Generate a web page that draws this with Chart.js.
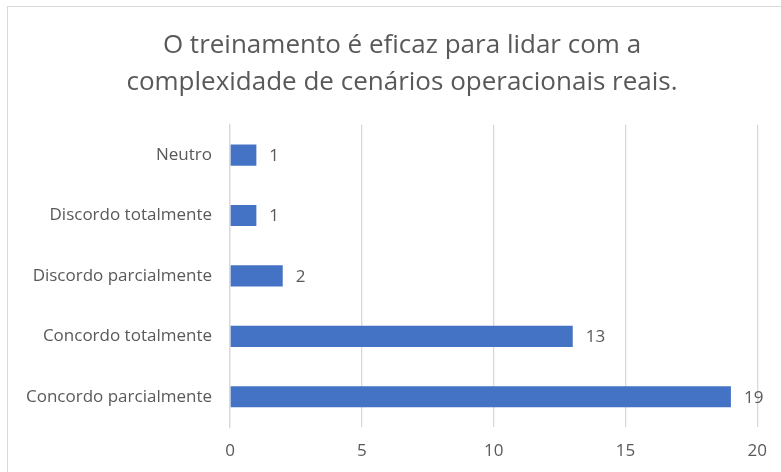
<!DOCTYPE html>
<html>
<head>
<meta charset="utf-8">
<script src="https://cdn.jsdelivr.net/npm/chart.js@4.4.1/dist/chart.umd.min.js"></script>
<style>
  body { margin: 0; background: #fff; overflow: hidden; }
  #frame { position: absolute; left: 7px; top: 6px; width: 800px; height: 490px; border: 1.5px solid #d9d9d9; }
  #c { position: absolute; left: 0; top: 0; }
</style>
</head>
<body>
<div id="frame"></div>
<canvas id="c" width="781" height="472"></canvas>
<script>
const titleLines = ["O treinamento é eficaz para lidar com a", "complexidade de cenários operacionais reais."]
const answers = ["Neutro", "Discordo totalmente", "Discordo parcialmente", "Concordo totalmente", "Concordo parcialmente"]
const counts = [1, 1, 2, 13, 19]
const xTicks = [0, 5, 10, 15, 20]

const grey = "#595959"
const fontName = "'Open Sans', sans-serif"

// write the value just past the end of each bar
const barLabels = {
    id: "barLabels",
    afterDatasetsDraw(chart) {
        const ctx = chart.ctx
        ctx.save()
        ctx.fillStyle = grey
        ctx.font = "17px " + fontName
        ctx.textAlign = "left"
        ctx.textBaseline = "middle"
        chart.getDatasetMeta(0).data.forEach((bar, i) => {
            ctx.fillText(String(counts[i]), bar.x + 13, bar.y + 1)
        })
        ctx.restore()
    }
}

const chart = new Chart(document.getElementById("c"), {
    type: "bar",
    data: {
        labels: answers,
        datasets: [{
            data: counts,
            backgroundColor: "#4472C4",
            categoryPercentage: 1,
            barPercentage: 0.35,
        }],
    },
    options: {
        indexAxis: "y",
        responsive: false,
        animation: false,
        // left padding pushes the title centre to the right like the original
        layout: { padding: { left: 42, right: 19, top: 0, bottom: 0 } },
        plugins: {
            legend: { display: false },
            tooltip: { enabled: false },
            title: {
                display: true,
                text: titleLines,
                color: grey,
                font: { family: fontName, size: 26, weight: "normal", lineHeight: 1.42 },
                padding: { top: 27, bottom: 24 },
            },
        },
        scales: {
            x: {
                min: 0,
                max: 20,
                afterBuildTicks: (axis) => { axis.ticks = xTicks.map(v => ({ value: v })) },
                afterFit: (axis) => { axis.height = 45 },
                grid: { color: "#d9d9d9", lineWidth: 1.3, drawTicks: false },
                border: { display: false },
                ticks: { color: grey, padding: 14, font: { family: fontName, size: 17 } },
            },
            y: {
                afterFit: (axis) => {
                    axis.width = 188
                    // long labels run into the padding, so don't clip them
                    axis._computeLabelArea = () => null
                },
                grid: { display: false, drawTicks: false },
                border: { display: true, color: "#d9d9d9", width: 1.3 },
                ticks: { color: grey, padding: 18, font: { family: fontName, size: 17 } },
            },
        },
    },
    plugins: [barLabels],
})
</script>
</body>
</html>
